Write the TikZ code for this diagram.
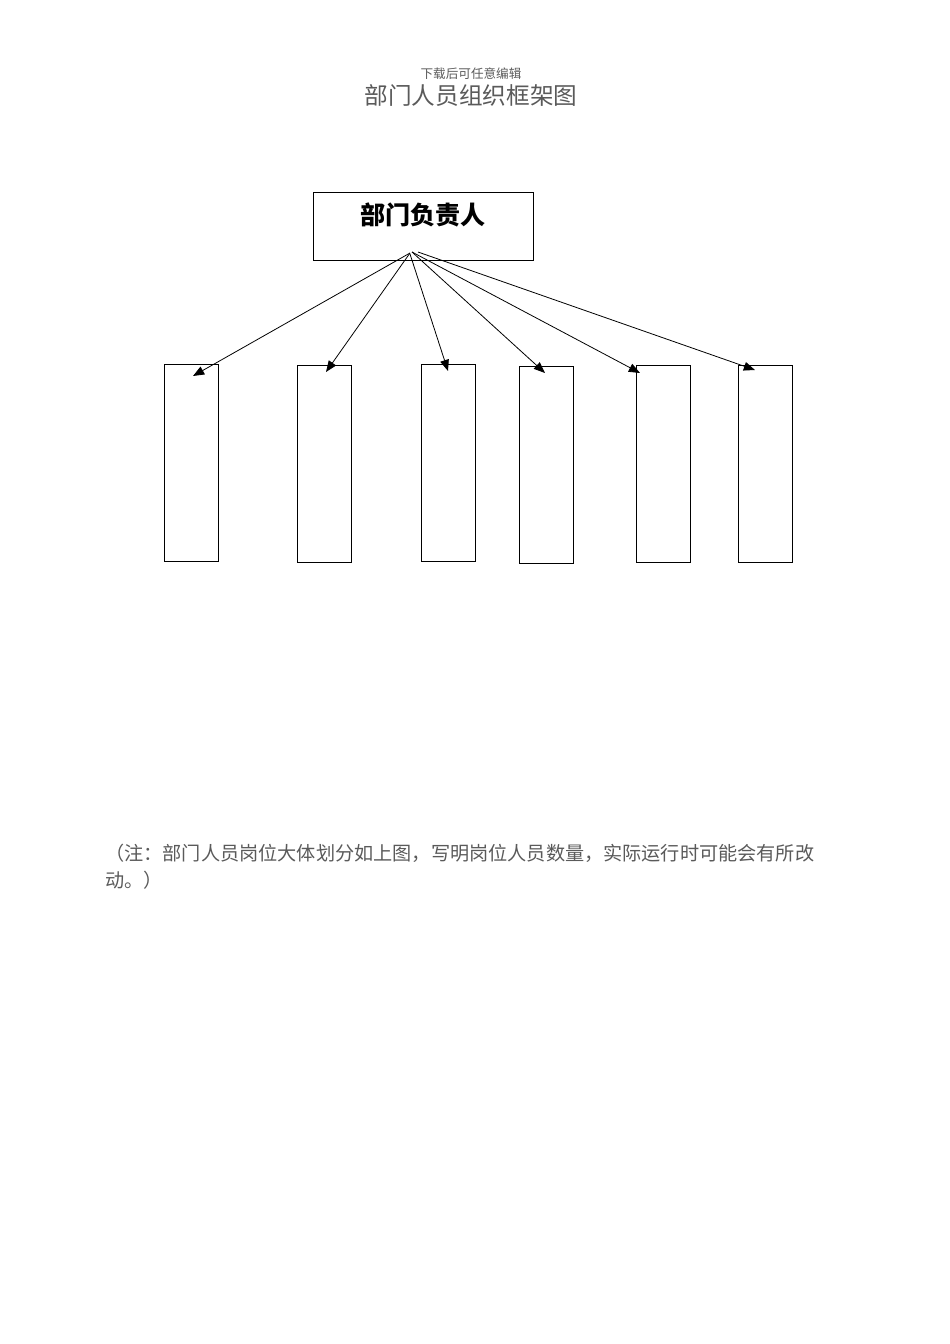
\documentclass[tikz,border=0pt]{standalone}
\usepackage{fontspec}
\usetikzlibrary{arrows.meta}
\newfontfamily\cjk{Noto Sans CJK SC}
\definecolor{txtgray}{RGB}{90,90,90}
\begin{document}
\begin{tikzpicture}[x=0.6263pt,y=-0.6263pt,
  box/.style={draw=black,line width=0.6pt,inner sep=0pt},
  sub/.style={box,anchor=north west,minimum width=54*0.6263pt,minimum height=197*0.6263pt},
  conn/.style={line width=0.5pt,-{Triangle[length=7pt,width=5.5pt]}},
  grayt/.style={text=txtgray,inner sep=0pt,font=\cjk}]
\useasboundingbox (0,0) rectangle (950,1344);
% header
\node[grayt,font=\cjk\fontsize{7.9}{9}\selectfont] (hdr) at (471,74) {下载后可任意编辑};
\node[grayt,font=\cjk\fontsize{14.8}{17}\selectfont] (title) at (471,96) {部门人员组织框架图};
% top box
\node[box,anchor=north west,minimum width=220*0.6263pt,minimum height=68*0.6263pt] (top) at (313,192) {};
\node[inner sep=0pt,font=\cjk\bfseries\fontsize{15.7}{18}\selectfont] (toplabel) at (423,215) {部门负责人};
% subordinate boxes
\node[sub] (b1) at (164,364) {};
\node[sub] (b2) at (297,365) {};
\node[sub] (b3) at (421,364) {};
\node[sub] (b4) at (519,366) {};
\node[sub] (b5) at (636,365) {};
\node[sub] (b6) at (738,365) {};
% start points
\coordinate (s1) at (410,253);
\coordinate (s2) at (410,253);
\coordinate (s3) at (410,254);
\coordinate (s4) at (412,252);
\coordinate (s5) at (412,252);
\coordinate (s6) at (418,252);
% tips
\coordinate (t1) at (193,376);
\coordinate (t2) at (326,372);
\coordinate (t3) at (448,371);
\coordinate (t4) at (545,373);
\coordinate (t5) at (640,373);
\coordinate (t6) at (755,370);
\foreach \i in {1,...,6} \draw[conn] (s\i) -- (t\i);
% footnote
\node[grayt,anchor=west,font=\cjk\fontsize{12}{14}\selectfont] (note1) at (105,853) {（注：部门人员岗位大体划分如上图，写明岗位人员数量，实际运行时可能会有所改};
\node[grayt,anchor=west,font=\cjk\fontsize{12}{14}\selectfont] (note2) at (105,880) {动。）};
\end{tikzpicture}
\end{document}
